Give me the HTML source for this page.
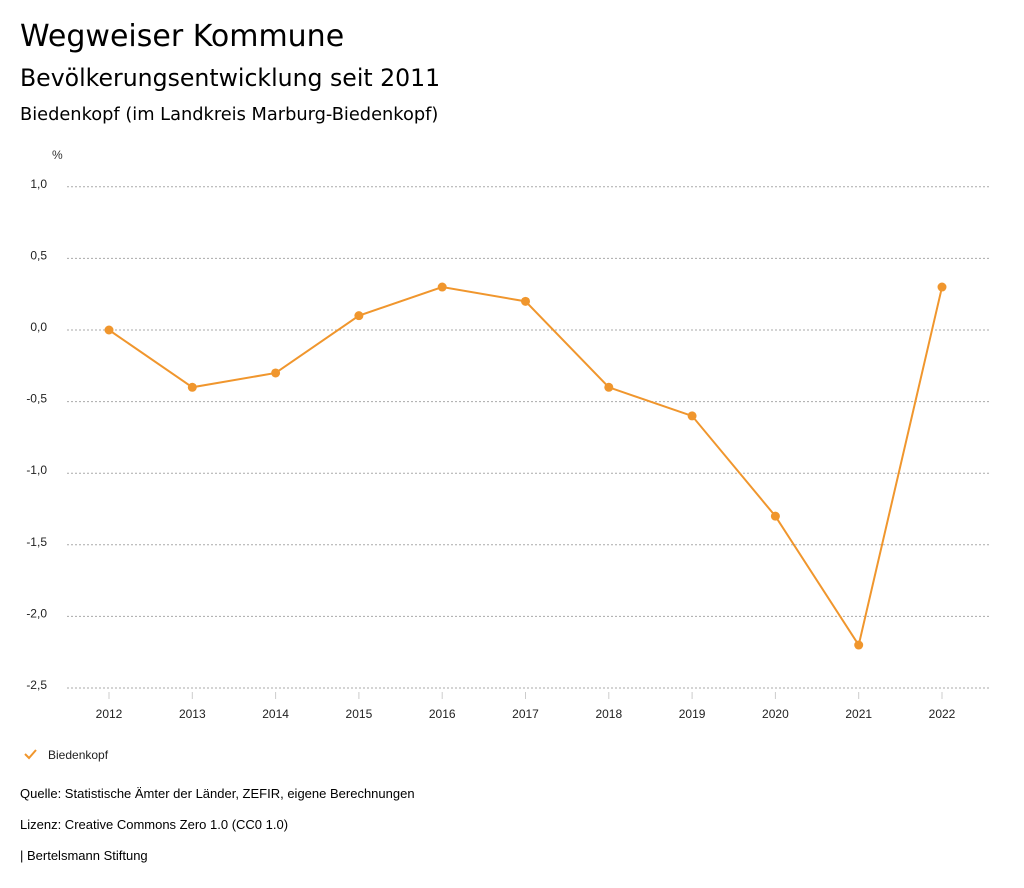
<!DOCTYPE html>
<html><head><meta charset="utf-8"><style>
body{margin:0;background:#fff;width:1024px;height:888px;overflow:hidden;font-family:"Liberation Sans",sans-serif;color:#000}
.t{position:absolute;left:20px;white-space:nowrap}
.h{font-family:"DejaVu Sans",sans-serif}
</style></head><body>
<div class="t h" style="top:19px;font-size:30px">Wegweiser Kommune</div>
<div class="t h" style="top:64px;font-size:23.6px">Bevölkerungsentwicklung seit 2011</div>
<div class="t h" style="top:104px;font-size:17.8px">Biedenkopf (im Landkreis Marburg-Biedenkopf)</div>
<svg id="chart" width="1024" height="888" style="position:absolute;left:0;top:0" font-family="Liberation Sans, sans-serif"></svg>
<div class="t" style="top:786px;font-size:13px">Quelle: Statistische Ämter der Länder, ZEFIR, eigene Berechnungen</div>
<div class="t" style="top:817px;font-size:13px">Lizenz: Creative Commons Zero 1.0 (CC0 1.0)</div>
<div class="t" style="top:848px;font-size:13px">| Bertelsmann Stiftung</div>
<script>
const years=["2012","2013","2014","2015","2016","2017","2018","2019","2020","2021","2022"];
const values=[0,-0.4,-0.3,0.1,0.3,0.2,-0.4,-0.6,-1.3,-2.2,0.3];
const yTicks=[1.0,0.5,0,-0.5,-1.0,-1.5,-2.0,-2.5];
const yTickLabels=["1,0","0,5","0,0","-0,5","-1,0","-1,5","-2,0","-2,5"];
const NS="http://www.w3.org/2000/svg";
const svg=document.getElementById('chart');
const y=v=>330-(v)*143.2;
const x=i=>109+i*83.3;
function mk(t,a,p){const e=document.createElementNS(NS,t);for(const k in a)e.setAttribute(k,a[k]);(p||svg).appendChild(e);return e;}
let u=mk('text',{x:52,y:159,'font-size':12,fill:'#333'});u.textContent='%';


yTicks.forEach((v,i)=>{
 const g=mk('line',{x1:67,x2:990,y1:y(v),y2:y(v),stroke:'#aaa','stroke-dasharray':'2,2'});
 
 
 const t=mk('text',{x:47,y:y(v)+1,'text-anchor':'end','font-size':12,fill:'#222'});
 t.textContent=yTickLabels[i];
 
 
});
years.forEach((yr,i)=>{
 const k=mk('line',{x1:x(i),x2:x(i),y1:692,y2:699,stroke:'#ccc'});
 
 
 const t=mk('text',{x:x(i),y:718,'text-anchor':'middle','font-size':12,fill:'#222'});
 t.textContent=yr;
 
 
});
const line=mk('polyline',{points:values.map((v,i)=>x(i)+','+y(v)).join(' '),fill:'none',stroke:'#f0962d','stroke-width':2});


values.forEach((v,i)=>{
 const c=mk('circle',{cx:x(i),cy:y(v),r:4.5,fill:'#f0962d'});
 
 
});
const lg=mk('g',{});


mk('polyline',{points:'25,754 29,758 36,750',fill:'none',stroke:'#f0962d','stroke-width':2},lg);
const lt=mk('text',{x:48,y:759,'font-size':12,fill:'#222'},lg);lt.textContent='Biedenkopf';
</script>
</body></html>
